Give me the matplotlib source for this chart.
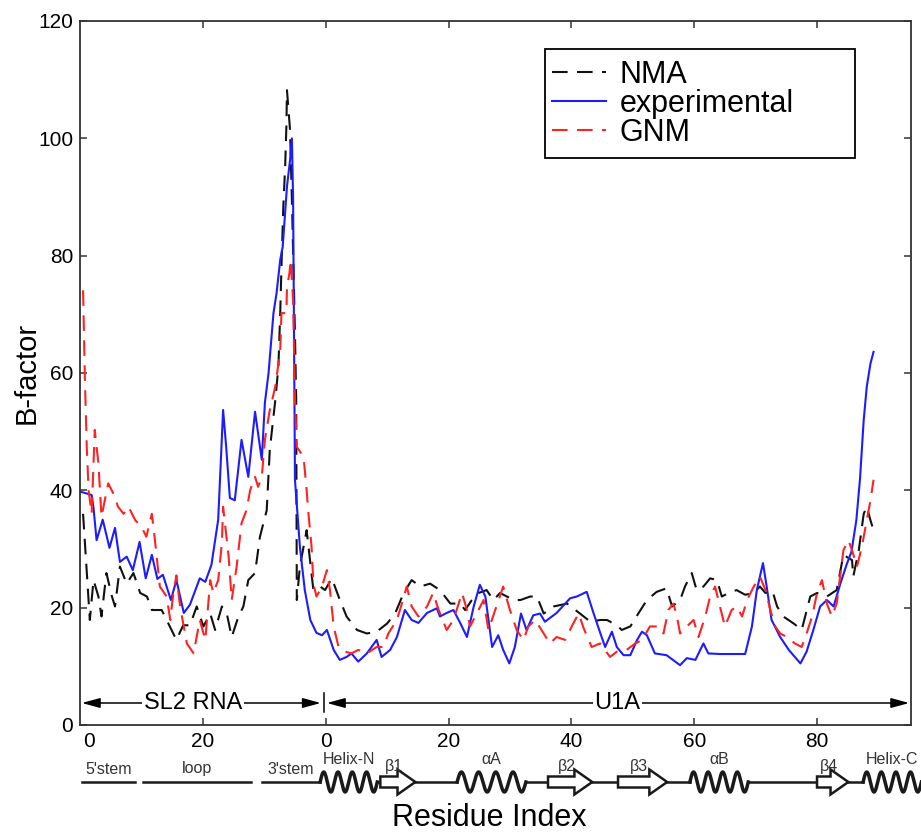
import numpy as np
import matplotlib.pyplot as plt
from matplotlib.patches import FancyArrow, Rectangle

plt.rcParams['font.family'] = ['Liberation Sans', 'DejaVu Sans']

# positions on the joined residue axis: SL2 RNA runs 0-39, U1A residue n sits at 40 + n
nma_x = [0.5, 1.6, 2.2, 3.0, 3.5, 4.3, 5.2, 5.7, 6.5, 7.6,
         8.7, 9.8, 10.9, 11.7, 13.3, 14.1, 15.7, 16.8, 17.9, 19.0,
         20.1, 21.2, 22.0, 23.1, 23.9, 24.7, 25.8, 26.6, 27.4, 28.5,
         29.3, 30.4, 30.9, 31.8, 32.3, 32.6, 32.8, 33.1, 33.4, 33.6,
         33.7, 34.2, 34.5, 35.0, 35.2, 35.3, 35.8, 36.9, 38.0, 39.1,
         39.9, 41.0, 42.1, 43.4, 45.1, 46.7, 48.3, 50.0, 51.3, 52.7,
         54.0, 55.4, 57.0, 58.6, 60.3, 61.9, 62.7, 63.8, 64.9, 66.2,
         67.3, 68.4, 69.5, 70.6, 71.7, 73.3, 74.4, 75.5, 77.1, 79.3,
         81.4, 83.1, 84.7, 85.8, 87.4, 88.2, 89.6, 90.9, 92.3, 93.9,
         95.5, 96.4, 97.7, 98.5, 99.6, 100.4, 101.5, 102.6, 103.7, 104.5,
         105.6, 106.9, 108.3, 109.7, 110.7, 111.6, 112.7, 113.5, 114.5, 116.2,
         117.5, 118.9, 120.0, 121.6, 123.2, 124.3, 125.7, 125.9, 126.8, 127.6,
         128.1, 128.7, 129.2]
nma_b = [36, 17.9, 24.7, 21.9, 18.5, 25.9, 21.9, 20.2, 27, 24.1,
         25.9, 22.5, 21.9, 19.6, 19.6, 17.9, 14.5, 17, 17, 20.2,
         16.8, 19, 16.2, 20.2, 19, 15, 18.5, 20.2, 24.7, 25.9,
         32.1, 36.6, 46.9, 55.4, 61, 70.2, 78.1, 88.3, 95.1, 102,
         108.2, 101.4, 89.5, 66.8, 55.4, 21.3, 27, 33.2, 23, 23.6,
         23, 25, 21.9, 18.5, 16.2, 15.6, 15.9, 17.3, 19, 22.5,
         24.7, 23.6, 24.1, 23, 20.7, 20.7, 19.6, 21.3, 22.5, 23,
         21.3, 22.5, 21.9, 21.3, 21.3, 21.9, 21.9, 19, 20.2, 20.7,
         19, 17.6, 17.9, 17.9, 17, 16.2, 16.8, 19, 21.3, 22.7,
         23.3, 20.2, 21.3, 23.6, 25.9, 23, 23.6, 25, 24.7, 21.9,
         22.5, 23, 22.2, 22.5, 23.6, 22.5, 23, 20.2, 18.5, 17.3,
         16.2, 21.9, 22.5, 21.9, 23, 29, 28.1, 25.3, 29.8, 36,
         37.2, 34.9, 33.2]

exp_x = [0, 1.9, 2.2, 2.7, 3.7, 4.8, 5.7, 6.5, 7.6, 8.6,
         9.7, 10.7, 11.7, 12.6, 13.5, 14.8, 15.7, 16.9, 17.9, 19.5,
         20.4, 21.4, 22.5, 23.3, 23.8, 24.4, 25.2, 26.3, 27.4, 28.5,
         29.6, 30.1, 30.7, 31.5, 32.0, 32.6, 33.0, 33.7, 34.2, 34.5,
         34.7, 35.0, 35.8, 36.6, 37.5, 38.5, 39.4, 40.2, 41.3, 42.3,
         43.4, 44.2, 45.3, 46.7, 48.3, 49.1, 50.5, 51.6, 52.9, 54.0,
         55.1, 56.5, 58.1, 58.6, 59.7, 60.8, 61.9, 63.0, 64.1, 65.1,
         66.0, 67.1, 68.1, 68.9, 69.9, 70.8, 71.8, 72.7, 73.8, 74.9,
         75.7, 77.6, 79.8, 80.9, 82.5, 83.6, 84.7, 85.5, 86.6, 87.4,
         88.5, 89.6, 90.7, 91.5, 92.3, 93.6, 95.5, 97.7, 98.8, 100.2,
         101.5, 102.3, 104.2, 106.4, 108.3, 109.4, 110.2, 111.2, 111.8, 112.6,
         114.0, 115.4, 117.3, 118.3, 119.4, 120.5, 121.6, 122.7, 123.8, 124.8,
         125.6, 126.4, 127.0, 127.6, 128.1, 128.7, 129.2]
exp_b = [39.8, 39.2, 37, 31.5, 35, 30.2, 33.6, 27.8, 28.7, 26.4,
         31.2, 25, 29, 24.9, 25.6, 21.3, 24.7, 19.1, 20.5, 25,
         24.4, 27.3, 35, 53.7, 47.4, 38.7, 38.3, 48.6, 42.3, 53.4,
         45.2, 54.9, 60, 70.2, 73.6, 79.3, 81.5, 91.8, 96.3, 100,
         89.5, 41.8, 30.4, 23, 17.9, 15.7, 15.3, 16.2, 12.8, 11.1,
         11.6, 12.2, 10.8, 12.2, 14.5, 11.6, 12.8, 15, 19.6, 17.9,
         17.4, 19.1, 19.9, 18.5, 19.1, 19.6, 17.4, 15, 20.2, 23.9,
         21.9, 13.3, 15.3, 12.8, 10.5, 13.3, 19, 16.2, 18.7, 19,
         17.6, 19.1, 21.6, 21.9, 22.7, 19.1, 15.7, 13.3, 15.9, 13.3,
         11.9, 11.9, 14.5, 15.9, 15.3, 12.2, 11.9, 10.2, 11.4, 11.1,
         13.9, 12.2, 12.1, 12.1, 12.1, 16.8, 23, 27.6, 23.6, 17.9,
         15, 12.8, 10.5, 12.5, 16.2, 20.2, 21.3, 20.2, 24.1, 27.3,
         29.5, 34.9, 42, 52, 57.7, 61.6, 63.6]

gnm_x = [0.5, 0.8, 1.1, 1.4, 1.9, 2.4, 3.0, 3.5, 4.6, 5.4,
         6.2, 7.1, 7.9, 9.0, 10.0, 10.8, 11.7, 12.2, 13.0, 14.1,
         14.7, 15.2, 15.7, 16.3, 17.4, 18.5, 19.5, 20.4, 21.2, 21.7,
         22.5, 23.1, 23.3, 24.2, 24.7, 25.5, 26.3, 27.1, 27.7, 28.5,
         29.0, 29.6, 30.1, 30.9, 31.8, 32.6, 32.8, 33.6, 33.7, 34.1,
         34.3, 34.7, 35.0, 35.3, 36.4, 36.9, 37.2, 37.7, 38.0, 38.5,
         39.4, 40.2, 40.7, 41.3, 42.1, 43.2, 44.2, 45.3, 46.7, 48.3,
         49.4, 50.2, 51.6, 52.4, 53.2, 54.0, 55.1, 56.5, 57.5, 58.4,
         59.7, 60.8, 62.2, 63.0, 63.5, 64.6, 65.7, 66.5, 67.6, 68.9,
         70.0, 71.1, 72.2, 73.0, 74.1, 75.5, 76.5, 77.6, 79.0, 80.3,
         81.2, 82.0, 83.3, 84.7, 86.3, 87.4, 89.0, 90.4, 91.5, 92.8,
         94.2, 95.0, 95.8, 96.6, 97.2, 97.7, 98.8, 99.9, 100.7, 101.8,
         102.6, 103.4, 104.2, 105.0, 106.1, 106.9, 107.8, 108.6, 109.7, 110.7,
         111.6, 112.4, 113.2, 114.0, 115.1, 116.4, 117.5, 118.3, 119.2, 120.0,
         120.8, 121.6, 122.4, 123.2, 124.3, 125.1, 125.7, 126.5, 127.3, 128.1,
         128.7, 129.2]
gnm_b = [74.1, 58.8, 47.4, 40, 36, 50.3, 44.6, 35.5, 41.2, 39.5,
         37.2, 36, 37.2, 34.9, 33.8, 32.1, 36, 31.5, 23.6, 21.9,
         17.9, 22.5, 25.5, 20.2, 13.9, 12.2, 17.9, 14.5, 24.7, 22.5,
         24.7, 31, 37.2, 28.7, 21.3, 27, 34.4, 36.6, 40, 42.3,
         40.6, 42.3, 48.6, 53.7, 57.7, 63.9, 70.2, 70.2, 74.7, 77,
         79.3, 72.4, 55.4, 47.4, 45.7, 40, 36, 30.4, 24.1, 21.9,
         23.6, 26.4, 23, 16.8, 13.3, 12.5, 12.2, 12.8, 12.2, 13.3,
         13.3, 15.6, 17.9, 20.7, 23.6, 20.2, 18.5, 20.2, 22.5, 19.6,
         16.2, 17.9, 22.5, 19.6, 16.8, 19, 21.3, 16.2, 19.6, 23.6,
         19.6, 16.2, 14.5, 16.8, 17.9, 15.6, 13.9, 15, 14.5, 17.3,
         19, 16.5, 13.3, 13.9, 11.6, 12.5, 12.8, 13.9, 14.5, 16.8,
         16.8, 15.6, 19.6, 20.7, 18.5, 15.6, 16.8, 17.9, 15, 18.5,
         21.9, 23.6, 20.2, 16.8, 19.6, 20.2, 18.5, 21.3, 23.6, 25.3,
         23, 19.6, 16.8, 15.6, 15, 13.9, 13.3, 15.6, 18.5, 22.5,
         24.7, 20.7, 18.5, 20.7, 29.8, 31.5, 29.8, 27, 30.4, 34.9,
         38.3, 41.8]

tick_pos = [20, 40, 60, 80, 100, 120]
tick_lab = ['20', '0', '20', '40', '60', '80']
rna_zero_pos = 1.5

# chain extents on the joined axis
rna_span = (0.3, 39.2)
u1a_span = (40.2, 135.0)
chain_break = 39.7

# secondary structure along the joined axis
rna_names = ["5'stem", 'loop', "3'stem"]
rna_start = [0.3, 10.3, 29.6]
rna_end = [9.0, 27.9, 39.1]
prot_names = ['Helix-N', 'β1', 'αA', 'β2', 'β3', 'αB', 'β4', 'Helix-C']
prot_kind = ['helix', 'strand', 'helix', 'strand', 'strand', 'helix', 'strand', 'helix']
prot_start = [39.1, 48.9, 61.4, 76.2, 87.6, 99.3, 120.0, 127.5]
prot_end = [48.4, 54.6, 72.6, 83.4, 95.6, 108.8, 125.1, 137.0]

W, H = 921, 835
fig = plt.figure(figsize=(W / 100, H / 100), dpi=100)
ax = fig.add_axes([80 / W, 110 / H, 831 / W, 704 / H])

dash = (0, (7.5, 4.5))
ax.plot(nma_x, nma_b, color='#111111', ls=dash, lw=1.5, label='NMA')
ax.plot(exp_x, exp_b, color='#1c1cff', lw=1.5, label='experimental')
ax.plot(gnm_x, gnm_b, color='#ff2222', ls=dash, lw=1.5, label='GNM')

ax.set_xlim(0, 135.3)
ax.set_ylim(0, 120)
ax.set_yticks(np.arange(0, 121, 20))
ax.set_xticks(tick_pos)
ax.set_xticklabels(tick_lab)
ax.tick_params(direction='in', length=5, width=1.1, top=True, right=True,
               labelsize=15, pad=5, color='#333333')
for sp in ax.spines.values():
    sp.set_color('#333333')
    sp.set_linewidth(1.3)
ax.annotate('0', xy=(rna_zero_pos, 0), xycoords=('data', 'axes fraction'),
            xytext=(0, -5), textcoords='offset points', ha='center', va='top',
            fontsize=15)
ax.set_ylabel('B-factor', fontsize=21, labelpad=-2)

# chain extents
arrow_y = 3.75
aprops = dict(arrowstyle='<|-|>,head_length=1.1,head_width=0.3', color='black',
              lw=1.1, shrinkA=0, shrinkB=0, mutation_scale=10)
ax.annotate('', xy=(rna_span[0], arrow_y), xytext=(rna_span[1], arrow_y), arrowprops=aprops)
ax.annotate('', xy=(u1a_span[0], arrow_y), xytext=(u1a_span[1], arrow_y), arrowprops=aprops)
ax.plot([chain_break, chain_break], [2.2, 5.5], color='black', lw=1.1)
box = dict(fc='white', ec='none', pad=1)
ax.text(18.4, arrow_y, 'SL2 RNA', ha='center', va='center', fontsize=17, bbox=box)
ax.text(87.5, arrow_y, 'U1A', ha='center', va='center', fontsize=17, bbox=box)

# legend with a hand-drawn frame
ax.add_patch(Rectangle((465 / 831, 567 / 704), 310 / 831, 109 / 704, transform=ax.transAxes,
                       fc='white', ec='black', lw=1.3, zorder=4))
leg = ax.legend(loc='upper left', bbox_to_anchor=(472 / 831, 665 / 704), frameon=False,
                fontsize=22, borderpad=0, borderaxespad=0, handlelength=1.76,
                handletextpad=0.46, labelspacing=-0.04)
leg.set_zorder(5)

# secondary structure strip
sax = fig.add_axes([80 / W, 23 / H, 831 / W, 60 / H])
sax.set_xlim(0, 135.3)
sax.set_ylim(-30, 30)
sax.axis('off')
ink = '#1a1a1a'
for name, s, e in zip(rna_names, rna_start, rna_end):
    sax.plot([s, e], [0, 0], color=ink, lw=1.8, clip_on=False)
    sax.text((s + e) / 2, 13, name, ha='center', va='center', fontsize=11.5, color='#333333')

for i in range(len(prot_names) - 1):
    sax.plot([prot_end[i], prot_start[i + 1]], [0, 0], color=ink, lw=1.8, clip_on=False)

t = np.linspace(0, 1, 300)
for name, kind, s, e in zip(prot_names, prot_kind, prot_start, prot_end):
    if kind == 'helix':
        sax.plot(s + (e - s) * t, 10 * np.sin(2 * np.pi * 4 * t), color=ink, lw=2.5,
                 clip_on=False)
        sax.text((s + e) / 2, 22, name, ha='center', va='center', fontsize=11.5, color='#333333')
    else:
        sax.add_patch(FancyArrow(s, 0, e - s, 0, width=11, head_width=25, head_length=2.9,
                                 length_includes_head=True, fc='white', ec=ink, lw=1.8,
                                 clip_on=False, zorder=3))
        sax.text((s + e) / 2 - 0.6, 15, name, ha='center', va='center', fontsize=11.5,
                 color='#333333', zorder=4)

fig.text(489 / W, 1 - 818 / H, 'Residue Index', ha='center', va='center', fontsize=22)

fig.savefig('out.png', dpi=100)
